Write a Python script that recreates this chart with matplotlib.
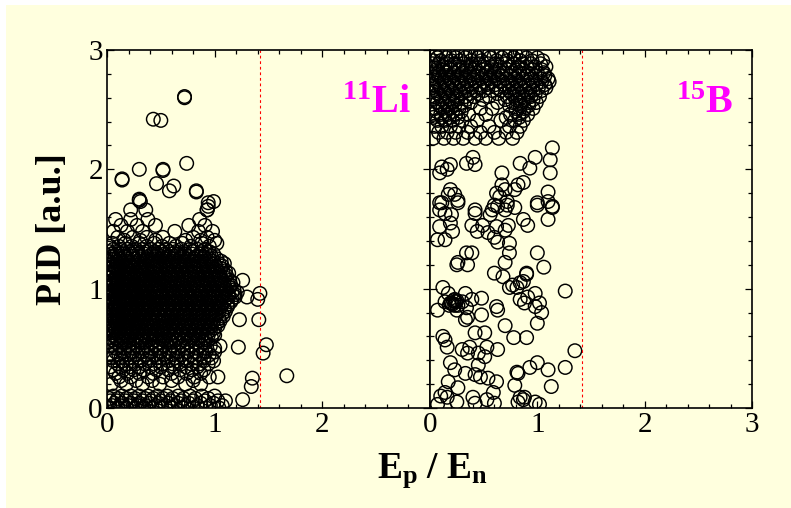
import matplotlib
matplotlib.use("Agg")
import matplotlib.pyplot as plt
from matplotlib.patches import Rectangle
from matplotlib.ticker import MultipleLocator

plt.rcParams["font.family"] = "Liberation Serif"
plt.rcParams["mathtext.fontset"] = "custom"
plt.rcParams["mathtext.rm"] = "Liberation Serif"
plt.rcParams["mathtext.bf"] = "Liberation Serif:bold"
plt.rcParams["mathtext.it"] = "Liberation Serif:italic"

CREAM = "#FFFFDE"

# ---------------- 11Li : dense core, read row by row (PID value, Ep/En values)
li_core_rows = [
    (1.33, [0.06, 0.13, 0.19, 0.27, 0.33, 0.41, 0.48, 0.55, 0.61, 0.69, 0.77, 0.84, 0.91]),
    (1.31, [0.02, 0.08, 0.15, 0.21, 0.28, 0.36, 0.44, 0.51, 0.58, 0.64, 0.72, 0.80, 0.88, 0.95]),
    (1.29, [0.04, 0.09, 0.16, 0.22, 0.29, 0.35, 0.42, 0.47, 0.53, 0.60, 0.66, 0.72, 0.79, 0.86, 0.92, 0.99]),
    (1.27, [0.05, 0.11, 0.17, 0.24, 0.30, 0.38, 0.45, 0.51, 0.57, 0.63, 0.70, 0.76, 0.83, 0.90, 0.97]),
    (1.25, [0.03, 0.07, 0.12, 0.18, 0.25, 0.31, 0.37, 0.44, 0.50, 0.56, 0.63, 0.69, 0.75, 0.81, 0.88, 0.95, 1.02]),
    (1.23, [0.02, 0.09, 0.14, 0.20, 0.28, 0.34, 0.41, 0.47, 0.53, 0.60, 0.66, 0.72, 0.79, 0.85, 0.92, 0.99, 1.06]),
    (1.21, [0.04, 0.10, 0.15, 0.21, 0.27, 0.34, 0.40, 0.46, 0.52, 0.58, 0.65, 0.71, 0.77, 0.84, 0.90, 0.97, 1.04, 1.09]),
    (1.19, [0.06, 0.12, 0.18, 0.24, 0.31, 0.37, 0.43, 0.49, 0.55, 0.62, 0.68, 0.74, 0.81, 0.87, 0.94, 1.01, 1.07]),
    (1.17, [0.03, 0.08, 0.13, 0.19, 0.24, 0.30, 0.36, 0.43, 0.49, 0.55, 0.61, 0.67, 0.73, 0.80, 0.86, 0.93, 0.99, 1.06]),
    (1.15, [0.05, 0.10, 0.16, 0.21, 0.27, 0.33, 0.40, 0.46, 0.52, 0.58, 0.64, 0.70, 0.77, 0.83, 0.90, 0.96, 1.03, 1.10]),
    (1.13, [0.02, 0.06, 0.11, 0.17, 0.22, 0.28, 0.33, 0.39, 0.45, 0.51, 0.57, 0.63, 0.70, 0.76, 0.82, 0.88, 0.95, 1.01, 1.08, 1.13]),
    (1.11, [0.04, 0.09, 0.14, 0.19, 0.25, 0.31, 0.36, 0.42, 0.48, 0.54, 0.60, 0.66, 0.73, 0.79, 0.85, 0.92, 0.98, 1.05, 1.11]),
    (1.09, [0.03, 0.08, 0.14, 0.20, 0.25, 0.31, 0.37, 0.42, 0.48, 0.54, 0.60, 0.66, 0.72, 0.78, 0.85, 0.91, 0.97, 1.04, 1.10]),
    (1.07, [0.05, 0.11, 0.17, 0.23, 0.28, 0.34, 0.40, 0.45, 0.51, 0.57, 0.63, 0.69, 0.75, 0.82, 0.88, 0.94, 1.01, 1.07, 1.14]),
    (1.05, [0.02, 0.06, 0.11, 0.16, 0.22, 0.27, 0.33, 0.39, 0.45, 0.50, 0.56, 0.62, 0.68, 0.74, 0.80, 0.87, 0.93, 0.99, 1.06, 1.12, 1.17]),
    (1.03, [0.04, 0.09, 0.14, 0.19, 0.25, 0.30, 0.36, 0.42, 0.48, 0.53, 0.59, 0.65, 0.71, 0.77, 0.84, 0.90, 0.96, 1.03, 1.09, 1.15]),
    (1.01, [0.03, 0.08, 0.13, 0.19, 0.24, 0.30, 0.35, 0.41, 0.47, 0.53, 0.58, 0.64, 0.70, 0.77, 0.83, 0.89, 0.95, 1.02, 1.08, 1.14]),
    (0.99, [0.05, 0.10, 0.16, 0.22, 0.27, 0.33, 0.38, 0.44, 0.50, 0.56, 0.61, 0.67, 0.74, 0.80, 0.86, 0.92, 0.99, 1.05, 1.11, 1.18]),
    (0.97, [0.02, 0.05, 0.10, 0.15, 0.21, 0.26, 0.32, 0.37, 0.43, 0.49, 0.55, 0.61, 0.67, 0.73, 0.79, 0.85, 0.91, 0.98, 1.04, 1.10, 1.16, 1.21]),
    (0.95, [0.04, 0.08, 0.13, 0.18, 0.24, 0.29, 0.35, 0.40, 0.46, 0.52, 0.58, 0.64, 0.70, 0.76, 0.82, 0.88, 0.95, 1.01, 1.07, 1.13, 1.19]),
    (0.93, [0.03, 0.07, 0.12, 0.17, 0.23, 0.28, 0.34, 0.40, 0.46, 0.51, 0.57, 0.63, 0.69, 0.75, 0.81, 0.88, 0.94, 1.00, 1.07, 1.13, 1.19]),
    (0.91, [0.05, 0.10, 0.15, 0.20, 0.26, 0.31, 0.37, 0.43, 0.49, 0.54, 0.60, 0.66, 0.72, 0.78, 0.85, 0.91, 0.97, 1.04, 1.10, 1.16]),
    (0.89, [0.02, 0.05, 0.10, 0.15, 0.20, 0.26, 0.31, 0.37, 0.43, 0.48, 0.54, 0.60, 0.66, 0.72, 0.78, 0.84, 0.90, 0.96, 1.03, 1.09, 1.15]),
    (0.87, [0.04, 0.08, 0.12, 0.18, 0.23, 0.29, 0.34, 0.40, 0.46, 0.51, 0.57, 0.63, 0.69, 0.75, 0.81, 0.87, 0.93, 0.99, 1.06, 1.12]),
    (0.85, [0.03, 0.08, 0.13, 0.18, 0.24, 0.29, 0.35, 0.41, 0.46, 0.52, 0.58, 0.64, 0.70, 0.76, 0.82, 0.88, 0.94, 1.00, 1.06, 1.12]),
    (0.83, [0.05, 0.10, 0.16, 0.21, 0.27, 0.32, 0.38, 0.44, 0.49, 0.55, 0.61, 0.67, 0.73, 0.79, 0.85, 0.91, 0.97, 1.03, 1.09]),
    (0.81, [0.02, 0.06, 0.11, 0.16, 0.22, 0.27, 0.33, 0.38, 0.44, 0.50, 0.56, 0.62, 0.68, 0.74, 0.80, 0.86, 0.92, 0.98, 1.04, 1.10]),
    (0.79, [0.04, 0.09, 0.14, 0.19, 0.25, 0.30, 0.36, 0.41, 0.47, 0.53, 0.59, 0.65, 0.71, 0.77, 0.83, 0.89, 0.95, 1.01, 1.07]),
    (0.77, [0.04, 0.09, 0.14, 0.20, 0.25, 0.31, 0.36, 0.42, 0.48, 0.54, 0.60, 0.65, 0.71, 0.77, 0.83, 0.89, 0.95, 1.01, 1.08]),
    (0.75, [0.02, 0.06, 0.11, 0.17, 0.22, 0.28, 0.33, 0.39, 0.45, 0.51, 0.57, 0.62, 0.68, 0.74, 0.80, 0.86, 0.92, 0.98, 1.04]),
    (0.73, [0.03, 0.07, 0.12, 0.18, 0.23, 0.29, 0.34, 0.40, 0.46, 0.52, 0.57, 0.63, 0.69, 0.75, 0.81, 0.87, 0.93, 0.99, 1.05]),
    (0.71, [0.05, 0.09, 0.15, 0.20, 0.26, 0.31, 0.37, 0.43, 0.49, 0.55, 0.60, 0.66, 0.72, 0.78, 0.84, 0.90, 0.96, 1.02]),
    (0.69, [0.05, 0.10, 0.15, 0.21, 0.27, 0.32, 0.38, 0.44, 0.50, 0.55, 0.61, 0.67, 0.73, 0.79, 0.85, 0.91, 0.97, 1.03]),
    (0.67, [0.02, 0.07, 0.12, 0.18, 0.24, 0.29, 0.35, 0.41, 0.47, 0.52, 0.58, 0.64, 0.70, 0.76, 0.82, 0.88, 0.94, 1.00]),
    (0.65, [0.04, 0.08, 0.13, 0.19, 0.25, 0.30, 0.36, 0.42, 0.47, 0.53, 0.59, 0.65, 0.71, 0.77, 0.83, 0.90, 0.96]),
    (0.63, [0.06, 0.10, 0.16, 0.22, 0.27, 0.33, 0.39, 0.44, 0.50, 0.56, 0.62, 0.68, 0.74, 0.80, 0.86, 0.93, 0.99]),
    (0.61, [0.06, 0.11, 0.17, 0.23, 0.28, 0.34, 0.40, 0.46, 0.51, 0.57, 0.63, 0.69, 0.75, 0.82, 0.88, 0.94, 1.00]),
    (0.59, [0.03, 0.08, 0.14, 0.20, 0.25, 0.31, 0.37, 0.43, 0.49, 0.54, 0.60, 0.66, 0.72, 0.79, 0.85, 0.91, 0.97]),
    (0.57, [0.05, 0.10, 0.16, 0.21, 0.27, 0.33, 0.39, 0.45, 0.52, 0.58, 0.64, 0.71, 0.78, 0.85, 0.92]),
    (0.55, [0.02, 0.08, 0.13, 0.19, 0.24, 0.30, 0.36, 0.42, 0.48, 0.55, 0.61, 0.68, 0.75, 0.82, 0.89]),
]

# 11Li : sparser rows above and below the core
li_halo_rows = [
    (1.58, [0.08, 0.22, 0.38, 0.86]),
    (1.53, [0.13, 0.28, 0.45, 0.76, 0.91]),
    (1.48, [0.06, 0.19, 0.33, 0.63, 0.85, 0.98]),
    (1.43, [0.10, 0.24, 0.37, 0.52, 0.80, 0.93]),
    (1.405, [0.16, 0.31, 0.45, 0.73, 0.87, 1.00]),
    (1.38, [0.05, 0.17, 0.30, 0.44, 0.58, 0.70, 0.88, 1.02]),
    (1.355, [0.03, 0.11, 0.23, 0.37, 0.51, 0.64, 0.78, 0.95]),
    (0.52, [0.04, 0.12, 0.20, 0.28, 0.37, 0.45, 0.53, 0.62, 0.70, 0.79, 0.87, 0.96, 1.05]),
    (0.50, [0.08, 0.16, 0.24, 0.33, 0.41, 0.49, 0.58, 0.66, 0.74, 0.83, 0.91, 1.00]),
    (0.47, [0.08, 0.16, 0.24, 0.33, 0.41, 0.50, 0.58, 0.66, 0.75, 0.83, 0.92, 1.00]),
    (0.445, [0.03, 0.11, 0.20, 0.28, 0.37, 0.45, 0.53, 0.61, 0.70, 0.78, 0.86, 0.95]),
    (0.42, [0.05, 0.13, 0.21, 0.30, 0.38, 0.47, 0.55, 0.64, 0.72, 0.81, 0.90, 0.97]),
    (0.395, [0.06, 0.14, 0.23, 0.31, 0.39, 0.48, 0.57, 0.65, 0.74, 0.82, 0.90, 0.99]),
    (0.37, [0.10, 0.18, 0.27, 0.35, 0.44, 0.52, 0.61, 0.69, 0.78, 0.86, 0.94]),
    (0.345, [0.03, 0.12, 0.21, 0.30, 0.40, 0.50, 0.62, 0.73, 0.84]),
    (0.32, [0.06, 0.15, 0.25, 0.34, 0.46, 0.57, 0.68, 0.79, 0.90]),
    (0.29, [0.08, 0.19, 0.30, 0.43, 0.60, 0.74, 0.87]),
    (0.26, [0.11, 0.22, 0.38, 0.52, 0.66, 0.81, 0.95, 1.03]),
    (0.23, [0.13, 0.27, 0.42, 0.60, 0.80]),
    (0.20, [0.04, 0.18, 0.33, 0.49, 0.73, 0.87]),
    (0.10, [0.06, 0.14, 0.22, 0.30, 0.38, 0.47, 0.56, 0.66, 0.77, 0.88, 1.00]),
    (0.08, [0.02, 0.10, 0.18, 0.26, 0.35, 0.43, 0.52, 0.61, 0.71, 0.82, 0.94]),
    (0.06, [0.03, 0.09, 0.17, 0.25, 0.33, 0.41, 0.50, 0.59, 0.69, 0.80, 0.91, 1.03, 1.10]),
    (0.04, [0.07, 0.14, 0.22, 0.30, 0.39, 0.48, 0.57, 0.66, 0.76, 0.87, 0.99]),
    (0.02, [0.05, 0.12, 0.20, 0.28, 0.36, 0.45, 0.54, 0.63, 0.73, 0.84, 0.96, 1.07]),
    (0.00, [0.03, 0.10, 0.18, 0.26, 0.34, 0.42, 0.51, 0.60, 0.70, 0.80, 0.92, 1.04]),
]

# 11Li : isolated events
li_out_x = [0.72, 0.72, 0.43, 0.50, 0.30, 0.52, 0.52, 0.74, 0.14, 0.14, 0.46, 0.62, 0.58,
            0.83, 0.83, 0.30, 0.30, 0.99, 0.94, 0.22, 0.36, 0.93, 0.31, 0.94, 0.93,
            1.26, 1.30, 1.42, 1.40, 1.41, 1.23, 1.48, 1.45, 1.22, 1.67, 1.35, 1.34, 1.26]
li_out_y = [2.61, 2.60, 2.42, 2.41, 2.00, 2.00, 1.99, 2.05, 1.92, 1.91, 1.88, 1.86, 1.82,
            1.82, 1.81, 1.75, 1.74, 1.73, 1.69, 1.66, 1.66, 1.66, 1.73, 1.72, 1.66,
            1.07, 0.93, 0.96, 0.91, 0.74, 0.74, 0.53, 0.46, 0.51, 0.27, 0.25, 0.18, 0.07]

# ---------------- 15B : band near PID ~ 2.6
b_band_rows = [
    (2.985, [0.10, 0.25, 0.38, 0.48, 0.62, 0.75, 0.84]),
    (2.96, [0.05, 0.18, 0.33, 0.42, 0.55, 0.70, 0.80, 0.86]),
    (2.935, [0.07, 0.15, 0.24, 0.33, 0.45, 0.56, 0.67, 0.78, 0.90, 1.00]),
    (2.91, [0.03, 0.10, 0.20, 0.28, 0.38, 0.48, 0.62, 0.72, 0.84, 0.95, 1.05]),
    (2.885, [0.02, 0.08, 0.16, 0.23, 0.31, 0.39, 0.46, 0.54, 0.61, 0.70, 0.78, 0.86, 0.94, 1.03]),
    (2.86, [0.05, 0.12, 0.19, 0.26, 0.34, 0.42, 0.50, 0.57, 0.65, 0.74, 0.82, 0.90, 0.98, 1.08]),
    (2.835, [0.06, 0.12, 0.19, 0.27, 0.34, 0.41, 0.49, 0.57, 0.64, 0.72, 0.80, 0.87, 0.96, 1.04]),
    (2.81, [0.03, 0.08, 0.15, 0.22, 0.30, 0.37, 0.45, 0.53, 0.60, 0.68, 0.76, 0.83, 0.91, 1.00, 1.06]),
    (2.785, [0.02, 0.08, 0.15, 0.22, 0.29, 0.37, 0.44, 0.52, 0.60, 0.67, 0.75, 0.82, 0.90, 0.98, 1.07]),
    (2.76, [0.05, 0.11, 0.18, 0.25, 0.33, 0.40, 0.48, 0.56, 0.63, 0.71, 0.79, 0.86, 0.94, 1.03, 1.10]),
    (2.735, [0.06, 0.13, 0.20, 0.27, 0.34, 0.42, 0.50, 0.57, 0.65, 0.73, 0.80, 0.88, 0.96, 1.04, 1.11]),
    (2.71, [0.03, 0.09, 0.16, 0.23, 0.30, 0.38, 0.46, 0.53, 0.61, 0.69, 0.76, 0.84, 0.92, 0.99, 1.07]),
    (2.685, [0.03, 0.10, 0.17, 0.24, 0.32, 0.39, 0.47, 0.54, 0.62, 0.70, 0.78, 0.85, 0.93, 1.01, 1.08]),
    (2.66, [0.06, 0.13, 0.20, 0.28, 0.35, 0.43, 0.50, 0.58, 0.66, 0.74, 0.81, 0.89, 0.96, 1.04]),
    (2.635, [0.07, 0.14, 0.21, 0.29, 0.37, 0.45, 0.63, 0.76, 0.83, 0.91, 0.98]),
    (2.61, [0.04, 0.10, 0.17, 0.25, 0.33, 0.41, 0.55, 0.72, 0.79, 0.87, 0.94, 1.02]),
    (2.585, [0.03, 0.11, 0.18, 0.25, 0.34, 0.49, 0.70, 0.80, 0.88, 0.96]),
    (2.56, [0.07, 0.14, 0.21, 0.29, 0.38, 0.63, 0.77, 0.84, 0.92, 0.99]),
    (2.535, [0.09, 0.16, 0.23, 0.32, 0.74, 0.84, 0.92]),
    (2.51, [0.05, 0.12, 0.19, 0.27, 0.47, 0.58, 0.80, 0.88, 0.96]),
    (2.485, [0.06, 0.14, 0.21, 0.29, 0.80, 0.87]),
    (2.46, [0.03, 0.10, 0.17, 0.24, 0.36, 0.52, 0.75, 0.83, 0.91]),
    (2.435, [0.03, 0.11, 0.18, 0.26, 0.71, 0.83]),
    (2.41, [0.07, 0.14, 0.21, 0.30, 0.44, 0.66, 0.79, 0.87]),
    (2.36, [0.04, 0.11, 0.19, 0.27, 0.38, 0.55, 0.74, 0.84]),
    (2.31, [0.08, 0.16, 0.24, 0.35, 0.47, 0.60, 0.71, 0.81]),
    (2.26, [0.03, 0.13, 0.22, 0.31, 0.42, 0.52, 0.64, 0.77]),
]

# 15B : scattered events below the band
b_x = [1.14, 1.12, 1.12, 0.98, 0.84, 0.93, 0.11, 0.16, 0.09, 0.19, 0.34, 0.42, 0.40, 0.67,
       0.67, 0.70, 0.62, 0.65, 0.79, 0.82, 0.87, 0.19, 0.23, 0.26, 0.17, 1.10, 1.10,
       0.11, 0.09, 0.42, 0.58, 0.60, 0.72, 1.00, 1.14,
       0.09, 0.14, 0.09, 0.20, 0.21, 0.14, 0.07, 0.19, 0.26,
       0.42, 0.56, 0.39, 0.49, 0.44, 0.54, 0.62, 0.60, 0.63, 0.70, 0.73, 0.70, 0.63, 0.74, 0.79, 0.72,
       0.87, 0.91, 1.10, 1.14, 1.00,
       0.34, 0.39, 0.26, 0.25, 0.35,
       0.74, 0.70, 0.60, 0.68, 1.00, 1.06, 0.90, 1.26,
       0.12, 0.17, 0.23, 0.20, 0.26, 0.30, 0.33, 0.39, 0.48, 0.14, 0.07, 0.25, 0.34, 0.35,
       0.33, 0.48, 0.21, 0.23, 0.19, 0.22, 0.24, 0.18, 0.25,
       0.62, 0.63, 0.70, 0.74, 0.77, 0.81, 0.84, 0.87, 0.90,
       0.84, 0.88, 0.98, 1.02, 0.98, 1.04, 1.00, 0.91,
       0.12, 0.14, 0.16, 0.42, 0.51, 0.30, 0.37, 0.35, 0.45, 0.53, 0.63, 0.51,
       0.78, 0.90, 1.35, 1.26, 1.00, 0.93, 1.10, 1.13, 0.81, 0.82, 0.79,
       0.19, 0.23, 0.17, 0.16, 0.26, 0.14,
       0.33, 0.42, 0.47, 0.54, 0.62, 0.45, 0.59, 0.53, 0.40, 0.42, 0.60, 0.25,
       0.84, 0.87, 0.88, 0.82, 0.98, 1.02, 0.10, 0.07]
b_y = [2.18, 2.08, 1.97, 2.10, 2.05, 2.01, 2.02, 2.00, 1.97, 2.04, 2.05, 2.04, 2.10, 1.97,
       1.87, 1.83, 1.80, 1.77, 1.83, 1.87, 1.89, 1.83, 1.79, 1.74, 1.79, 1.81, 1.73,
       1.72, 1.66, 1.66, 1.66, 1.70, 1.73, 1.72, 1.69,
       1.72, 1.63, 1.52, 1.62, 1.48, 1.41, 1.41, 1.55, 1.72,
       1.63, 1.62, 1.53, 1.53, 1.48, 1.47, 1.52, 1.43, 1.39, 1.49, 1.53, 1.66, 1.69, 1.38, 1.68, 1.70,
       1.58, 1.53, 1.58, 1.68, 1.70,
       1.30, 1.30, 1.22, 1.20, 1.20,
       1.30, 1.22, 1.13, 1.10, 1.30, 1.18, 1.13, 0.98,
       1.01, 0.96, 0.91, 0.88, 0.86, 0.89, 0.96, 0.91, 0.92, 0.89, 0.82, 0.82, 0.84, 0.76,
       0.74, 0.78, 0.87, 0.86, 0.88, 0.90, 0.89, 0.86, 0.90,
       0.85, 0.82, 0.69, 1.01, 1.03, 1.01, 1.05, 1.06, 1.12,
       0.91, 0.88, 0.96, 0.88, 0.85, 0.80, 0.71, 0.93,
       0.60, 0.57, 0.51, 0.63, 0.63, 0.49, 0.51, 0.46, 0.46, 0.51, 0.49, 0.43,
       0.59, 0.59, 0.48, 0.34, 0.38, 0.34, 0.32, 0.18, 0.30, 0.29, 0.19,
       0.38, 0.32, 0.22, 0.09, 0.17, 0.13,
       0.29, 0.28, 0.26, 0.25, 0.22, 0.36, 0.13, 0.07, 0.09, 0.04, 0.04, 0.05,
       0.09, 0.07, 0.09, 0.05, 0.05, 0.03, 0.10, 0.03]

CUT = 1.42
XTICKS_LEFT = [0, 1, 2]
XTICKS_RIGHT = [0, 1, 2, 3]
YTICKS = [0, 1, 2, 3]


def flatten(rows):
    xs, ys = [], []
    for y, row in rows:
        xs += row
        ys += [y] * len(row)
    return xs, ys


fig = plt.figure(figsize=(7.91, 5.08), dpi=100)
fig.patch.set_facecolor("white")
fig.add_artist(Rectangle((6 / 791, 0), 1, 1 - 5 / 508, transform=fig.transFigure,
                         facecolor=CREAM, edgecolor="none", zorder=-10))

ax1 = fig.add_axes([107 / 791, 100 / 508, 323 / 791, 358 / 508])
ax2 = fig.add_axes([430 / 791, 100 / 508, 322 / 791, 358 / 508])

marker = dict(s=95, facecolors="none", edgecolors="black", linewidths=1.05)

cx, cy = flatten(li_core_rows)
hx, hy = flatten(li_halo_rows)
ax1.scatter(cx + hx + li_out_x, cy + hy + li_out_y, **marker)

bx, by = flatten(b_band_rows)
ax2.scatter(bx + b_x, by + b_y, **marker)

for ax, ticks in [(ax1, XTICKS_LEFT), (ax2, XTICKS_RIGHT)]:
    ax.set_facecolor(CREAM)
    ax.set_xlim(0, 3)
    ax.set_ylim(0, 3)
    ax.set_xticks(ticks)
    ax.set_yticks(YTICKS)
    ax.xaxis.set_minor_locator(MultipleLocator(0.2))
    ax.yaxis.set_minor_locator(MultipleLocator(0.2))
    ax.tick_params(which="both", direction="in", top=True, right=True, width=0.9, labelsize=21)
    ax.tick_params(which="major", length=5, pad=3)
    ax.tick_params(which="minor", length=3)
    for sp in ax.spines.values():
        sp.set_linewidth(1.2)
    ax.axvline(CUT, color="red", lw=0.8, ls=(0, (2.5, 2.5)))

ax2.tick_params(labelleft=False)

ax1.text(0.94, 0.825, r"$\mathbf{^{11}Li}$", transform=ax1.transAxes, color="#FF00FF",
         fontsize=29, ha="right", va="baseline")
ax2.text(0.94, 0.825, r"$\mathbf{^{15}B}$", transform=ax2.transAxes, color="#FF00FF",
         fontsize=29, ha="right", va="baseline")

fig.text(53 / 791, 1 - 229 / 508, "PID [a.u.]", rotation=90, fontsize=26, fontweight="bold",
         ha="center", va="center")
fig.text(432 / 791, 1 - 478 / 508, r"$\mathbf{E_p\ /\ E_n}$", fontsize=27,
         ha="center", va="baseline")

fig.savefig("out.png", dpi=100, facecolor=fig.get_facecolor())
